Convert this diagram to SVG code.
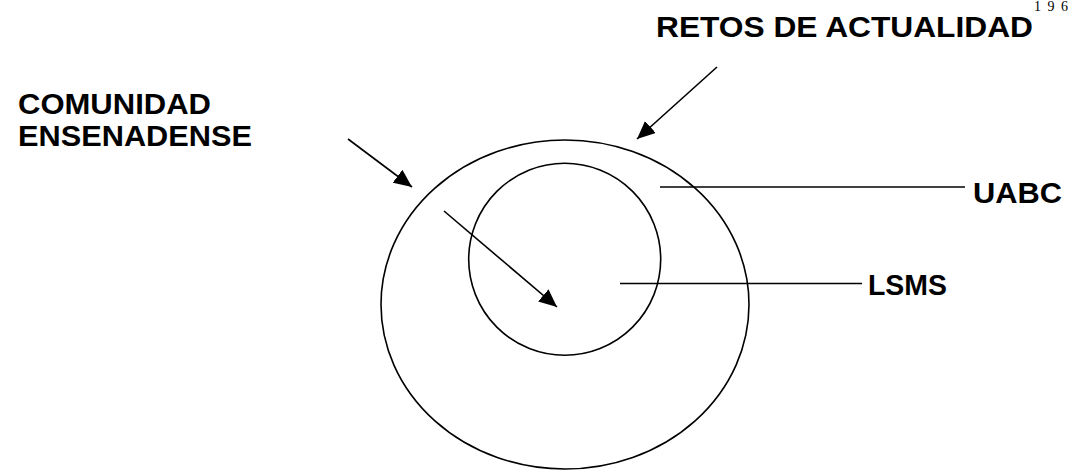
<svg xmlns="http://www.w3.org/2000/svg" width="1073" height="471" viewBox="0 0 1073 471">
<style>
.lbl{font-family:"Liberation Sans",Arial,sans-serif;font-weight:bold;font-size:29px;fill:#000}
.shape{fill:none;stroke:#000;stroke-width:1.6}
.conn{fill:none;stroke:#000;stroke-width:1.6}
</style>
<defs>
<marker id="ah" markerUnits="userSpaceOnUse" markerWidth="20" markerHeight="16" refX="18" refY="8" orient="auto">
<polygon points="0,0 18,8 0,16" fill="#000"/>
</marker>
</defs>
<rect width="1073" height="471" fill="#fff"/>
<text x="1034" y="11" textLength="34" lengthAdjust="spacing" style="font-family:'Liberation Serif','Times New Roman',serif;font-size:14px">196</text>
<g id="outer"><ellipse class="shape" cx="565" cy="304.5" rx="184" ry="164.5"/></g>
<g id="inner"><ellipse class="shape" cx="564.7" cy="259.3" rx="96" ry="96"/></g>
<g id="retos"><text class="lbl" x="656" y="37" textLength="377" lengthAdjust="spacingAndGlyphs">RETOS DE ACTUALIDAD</text></g>
<g id="comunidad"><text class="lbl" x="18" y="114" textLength="193" lengthAdjust="spacingAndGlyphs">COMUNIDAD</text><text class="lbl" x="18" y="146" textLength="234" lengthAdjust="spacingAndGlyphs">ENSENADENSE</text></g>
<g id="uabc"><text class="lbl" x="973" y="203" textLength="89" lengthAdjust="spacingAndGlyphs">UABC</text></g>
<g id="lsms"><text class="lbl" x="868" y="295" textLength="79" lengthAdjust="spacingAndGlyphs">LSMS</text></g>
<g id="connectors">
<line class="conn" x1="348" y1="139" x2="412" y2="187" marker-end="url(#ah)"/>
<line class="conn" x1="717" y1="67" x2="637" y2="139" marker-end="url(#ah)"/>
<line class="conn" x1="444" y1="211" x2="557" y2="307" marker-end="url(#ah)"/>
<line class="conn" x1="660" y1="187" x2="965" y2="187"/>
<line class="conn" x1="620" y1="283.5" x2="862" y2="283.5"/>
</g>
</svg>
